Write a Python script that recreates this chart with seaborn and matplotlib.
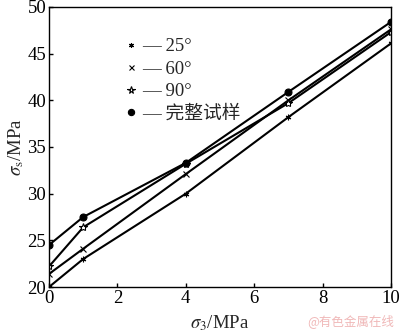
import matplotlib
matplotlib.use("Agg")
import matplotlib.pyplot as plt
import seaborn as sns
import pandas as pd
from matplotlib.lines import Line2D

sns.set_theme(style="ticks")
plt.rcParams['font.family'] = ['Liberation Serif', 'Noto Sans CJK SC']
plt.rcParams['mathtext.fontset'] = 'stix'

sigma3 = [0, 1, 4, 7, 10]
s25 = [20.0, 23.0, 30.0, 38.2, 46.1]
s60 = [21.4, 24.1, 32.1, 40.0, 47.6]
s90 = [22.2, 26.4, 33.2, 39.7, 47.3]
intact = [24.5, 27.5, 33.3, 40.9, 48.4]
labels = ["25°", "60°", "90°", "完整试样"]

df = pd.DataFrame({
    "x": sigma3 * 4,
    "y": s25 + s60 + s90 + intact,
    "series": [labels[0]] * 5 + [labels[1]] * 5 + [labels[2]] * 5 + [labels[3]] * 5,
})

styles = {
    "25°": dict(marker=(6, 2, 0), markersize=4, markerfacecolor="black", markeredgewidth=0.8),
    "60°": dict(marker="x", markersize=4, markerfacecolor="black", markeredgewidth=0.8),
    "90°": dict(marker="*", markersize=6, markerfacecolor="white", markeredgewidth=0.8),
    "完整试样": dict(marker="o", markersize=5, markerfacecolor="black", markeredgewidth=0.8),
}

fs = 13.5
fig = plt.figure(figsize=(4.0, 3.32), dpi=100)
ax = fig.add_axes([0.1225, 0.1355, 0.855, 0.8435])

for name in labels:
    sub = df[df["series"] == name]
    st = styles[name]
    sns.lineplot(data=sub, x="x", y="y", ax=ax, color="black", linewidth=1.5,
                 marker=st["marker"], markersize=st["markersize"],
                 markerfacecolor=st["markerfacecolor"], markeredgecolor="black",
                 markeredgewidth=st["markeredgewidth"], legend=False)

ax.set_xlim(0, 10)
ax.set_ylim(20, 50)
ax.set_xticks([0, 2, 4, 6, 8, 10])
ax.set_yticks([20, 25, 30, 35, 40, 45, 50])
ax.tick_params(direction="in", length=3, width=1, labelsize=fs, colors="black", pad=2)
for sp in ax.spines.values():
    sp.set_visible(True)
    sp.set_color("black")
    sp.set_linewidth(1.0)

ax.set_xlabel(r"$\sigma_3$/MPa", fontsize=fs, labelpad=5)
ax.set_ylabel(r"$\sigma_{\rm s}$/MPa", fontsize=fs, labelpad=1)

handles = []
for name in labels:
    st = styles[name]
    handles.append(Line2D([], [], linestyle="none", color="black", marker=st["marker"],
                          markersize=st["markersize"] * 0.9, markerfacecolor=st["markerfacecolor"],
                          markeredgecolor="black", markeredgewidth=st["markeredgewidth"]))
leg = ax.legend(handles, ["— " + l for l in labels], loc="upper left",
                bbox_to_anchor=(0.225, 0.888), frameon=False, fontsize=fs,
                handlelength=0.5, handletextpad=0.35, labelspacing=0.28,
                borderaxespad=0, borderpad=0)

fig.text(0.985, 0.012, "@有色金属在线", ha="right", va="bottom", fontsize=9,
         color="#f0b8b8", family=["Noto Sans CJK SC"])

fig.savefig("out.png", dpi=100)
